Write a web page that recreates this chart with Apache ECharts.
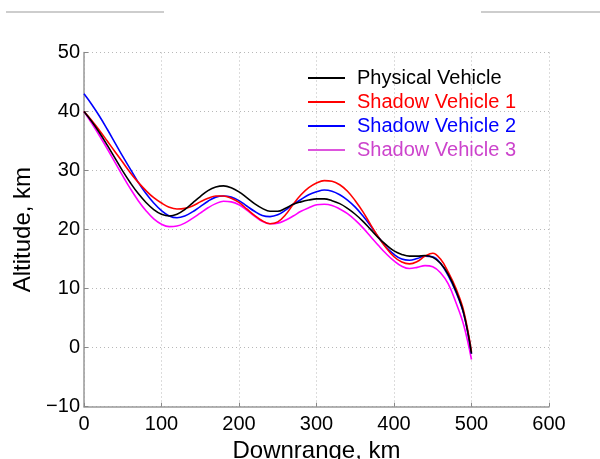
<!DOCTYPE html>
<html>
<head>
<meta charset="utf-8">
<script src="https://cdn.jsdelivr.net/npm/echarts@6/dist/echarts.min.js"></script>
<style>html,body{margin:0;padding:0;background:#fff;overflow:hidden;}#c{width:600px;height:459px;}</style>
</head>
<body>
<div id="c"></div>
<script>
var downrange = [0, 10, 20, 30, 40, 50, 60, 70, 80, 90, 100, 110, 120, 130, 140, 150, 160, 170, 180, 190, 200, 210, 220, 230, 240, 250, 260, 270, 280, 290, 300, 310, 320, 330, 340, 350, 360, 370, 380, 390, 400, 410, 420, 430, 440, 450, 460, 470, 480, 490, 500];
var physical = [40.0, 38.3, 36.4, 34.3, 32.1, 29.9, 27.9, 26.1, 24.6, 23.4, 22.6, 22.3, 22.6, 23.4, 24.5, 25.6, 26.6, 27.2, 27.4, 27.1, 26.4, 25.4, 24.4, 23.6, 23.1, 23.1, 23.6, 24.3, 24.7, 25.0, 25.2, 25.2, 24.9, 24.4, 23.6, 22.6, 21.4, 20.0, 18.6, 17.4, 16.4, 15.8, 15.5, 15.5, 15.6, 15.3, 14.3, 12.4, 9.6, 5.8, -1.0];
var shadow1  = [40.0, 38.5, 36.8, 35.0, 33.2, 31.4, 29.6, 28.0, 26.6, 25.4, 24.5, 23.8, 23.5, 23.6, 24.0, 24.7, 25.3, 25.7, 25.7, 25.3, 24.6, 23.5, 22.4, 21.5, 21.0, 21.3, 22.5, 24.3, 25.9, 27.1, 27.9, 28.3, 28.2, 27.6, 26.5, 24.9, 23.0, 20.8, 18.7, 16.9, 15.4, 14.5, 14.2, 14.6, 15.5, 16.0, 15.0, 12.8, 10.0, 6.2, -0.7];
var shadow2  = [43.0, 41.2, 39.2, 37.0, 34.7, 32.4, 30.2, 28.0, 26.1, 24.5, 23.2, 22.3, 22.0, 22.3, 23.0, 23.9, 24.8, 25.5, 25.7, 25.5, 24.9, 24.0, 23.1, 22.4, 22.2, 22.5, 23.3, 24.3, 25.1, 25.9, 26.4, 26.7, 26.5, 25.9, 25.0, 23.8, 22.3, 20.6, 18.7, 17.0, 15.8, 15.0, 14.8, 15.1, 15.5, 15.4, 14.3, 12.2, 9.4, 5.7, -1.0];
var shadow3  = [40.0, 38.0, 35.9, 33.7, 31.4, 29.1, 26.9, 24.9, 23.2, 21.8, 20.9, 20.5, 20.6, 21.1, 21.9, 22.8, 23.7, 24.4, 24.8, 24.7, 24.2, 23.3, 22.3, 21.4, 21.0, 21.1, 21.6, 22.3, 23.1, 23.7, 24.2, 24.3, 24.1, 23.5, 22.7, 21.6, 20.3, 18.8, 17.3, 15.9, 14.7, 13.8, 13.4, 13.6, 13.9, 13.7, 12.7, 10.8, 7.6, 3.8, -2.0];
var seriesNames = ['Physical Vehicle', 'Shadow Vehicle 1', 'Shadow Vehicle 2', 'Shadow Vehicle 3'];
var xTicks = [0, 100, 200, 300, 400, 500, 600];
var yTicks = [-10, 0, 10, 20, 30, 40, 50];

var colors = ['#000000', '#ff0000', '#0000ff', '#ff00ff'];
var legendLineColors = ['#000000', '#ff0000', '#0000ff', '#dd55dd'];
var textColors = ['#000000', '#ff0000', '#0000ff', '#cc44cc'];
var font = 'Liberation Sans, Arial, Helvetica, sans-serif';

function pairs(ys) { return downrange.map(function (x, i) { return [x, ys[i]]; }); }
var allY = [physical, shadow1, shadow2, shadow3];

var chart = echarts.init(document.getElementById('c'), null, {renderer: 'canvas'});
var axisLineStyle = {color: '#999999', width: 1.5};
var gridLine = {show: true, lineStyle: {color: '#b8b8b8', type: [1, 3], width: 1}};

chart.setOption({
  animation: false,
  backgroundColor: '#ffffff',
  grid: {left: 84, right: 51, top: 52.5, bottom: 52.3, containLabel: false, outerBoundsMode: 'none'},
  graphic: [
    {type: 'line', shape: {x1: 6, y1: 12, x2: 164, y2: 12}, style: {stroke: '#bdbdbd', lineWidth: 1.5}},
    {type: 'line', shape: {x1: 481, y1: 12, x2: 600, y2: 12}, style: {stroke: '#bdbdbd', lineWidth: 1.5}}
  ],
  legend: {
    show: true, left: 308, top: 68, orient: 'vertical', padding: 0,
    itemWidth: 37, itemHeight: 2, itemGap: 4, icon: 'rect',
    data: seriesNames.map(function (n, i) {
      return {name: n, icon: 'rect', itemStyle: {color: legendLineColors[i]}, textStyle: {color: textColors[i]}};
    }),
    textStyle: {fontFamily: font, fontSize: 20, lineHeight: 20, padding: [0, 0, 0, 7]}
  },
  xAxis: {
    type: 'value', min: 0, max: 600, interval: 100,
    name: 'Downrange, km', nameLocation: 'middle', nameGap: 31,
    nameTextStyle: {fontFamily: font, fontSize: 24, color: '#000'},
    axisLine: {show: true, onZero: false, lineStyle: axisLineStyle},
    axisTick: {show: true, inside: true, length: 4, lineStyle: {color: '#888'}},
    axisLabel: {fontFamily: font, fontSize: 20, color: '#000', margin: 8,
      formatter: function (v) { return xTicks.indexOf(v) >= 0 ? String(v) : ''; }},
    splitLine: gridLine
  },
  yAxis: {
    type: 'value', min: -10, max: 50, interval: 10,
    name: 'Altitude, km', nameLocation: 'middle', nameGap: 44, nameRotate: 90,
    nameTextStyle: {fontFamily: font, fontSize: 24, color: '#000'},
    axisLine: {show: true, onZero: false, lineStyle: axisLineStyle},
    axisTick: {show: true, inside: true, length: 4, lineStyle: {color: '#888'}},
    axisLabel: {fontFamily: font, fontSize: 20, color: '#000', margin: 4,
      formatter: function (v) { return yTicks.indexOf(v) >= 0 ? (v < 0 ? '\u2212' + Math.abs(v) : String(v)) : ''; }},
    splitLine: gridLine
  },
  series: seriesNames.map(function (n, i) {
    return {
      name: n, type: 'line', data: pairs(allY[i]), smooth: 0.4,
      showSymbol: false, symbol: 'none',
      lineStyle: {color: colors[i], width: 1.6},
      itemStyle: {color: colors[i]}, z: 10 - i
    };
  })
});
</script>
</body>
</html>
